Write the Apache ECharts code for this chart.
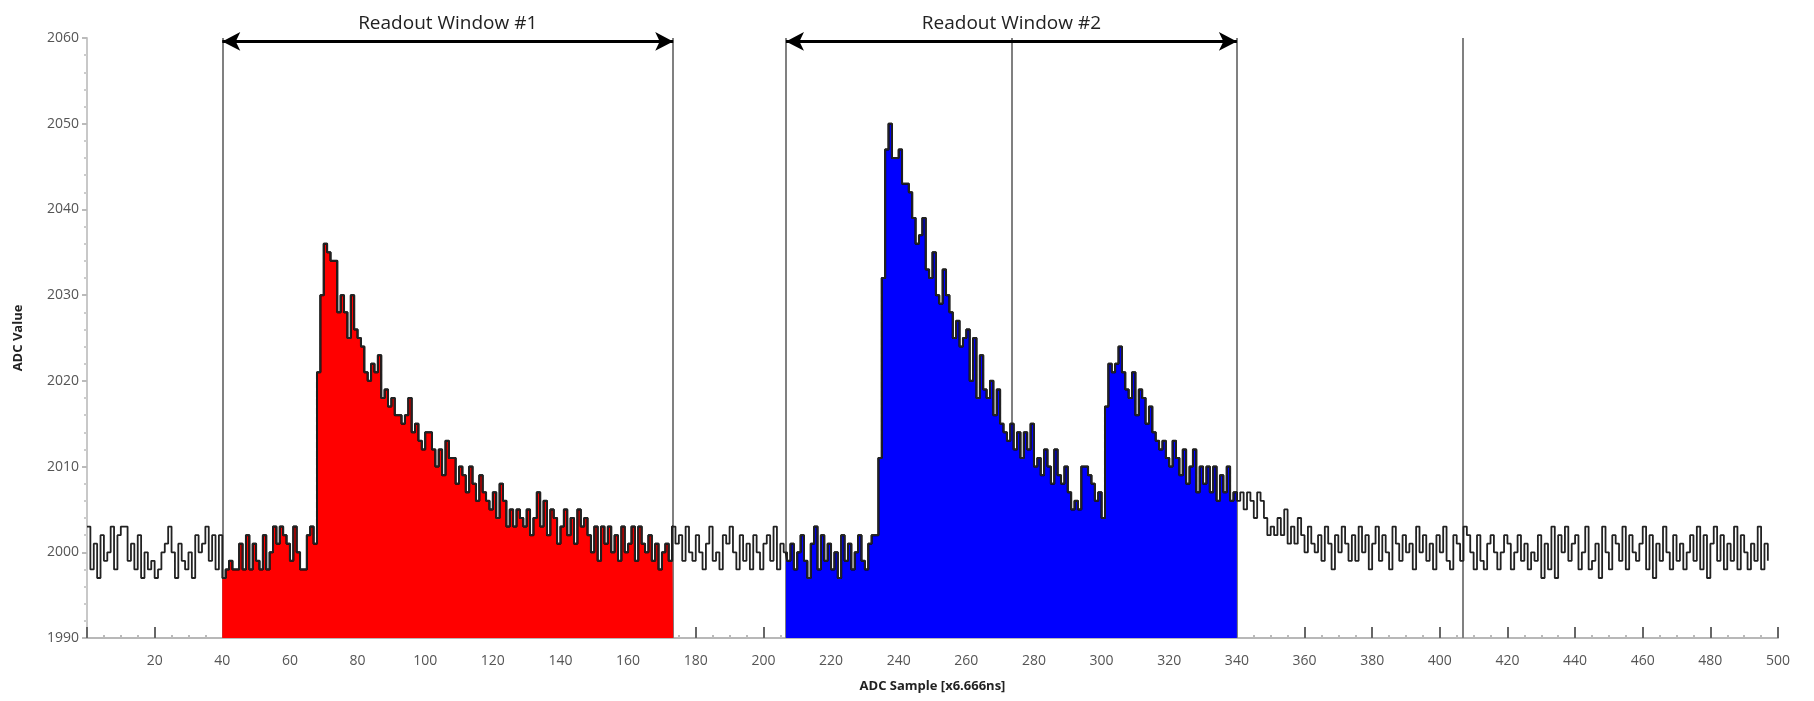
<!DOCTYPE html>
<html>
<head>
<meta charset="utf-8">
<title>ADC Readout Windows</title>
<script src="https://cdn.jsdelivr.net/npm/echarts@6/dist/echarts.min.js"></script>
<style>
  html, body { margin: 0; padding: 0; background: #fff; }
  #chart { width: 1814px; height: 701px; }
</style>
</head>
<body>
<div id="chart"></div>
<script>
// one ADC value per sample, starting at sample 0
const adcValues = [
  2003, 1998, 2001, 1997, 2002, 1999, 2000, 2003, 1998, 2002, // 0
  2003, 2003, 1999, 2001, 1998, 2002, 1997, 2000, 1998, 1999, // 10
  1997, 1998, 2000, 2001, 2003, 2000, 1997, 2001, 1999, 1998, // 20
  2000, 1997, 2002, 2000, 2001, 2003, 1999, 2002, 1998, 2002, // 30
  1997, 1998, 1999, 1998, 1998, 2001, 1998, 2002, 1998, 2001, // 40
  1999, 1998, 2002, 1998, 2000, 2003, 2001, 2003, 2002, 2001, // 50
  1999, 2003, 2000, 1998, 1998, 2002, 2003, 2001, 2021, 2030, // 60
  2036, 2035, 2034, 2034, 2028, 2030, 2028, 2025, 2030, 2026, // 70
  2025, 2024, 2021, 2020, 2022, 2021, 2023, 2018, 2019, 2017, // 80
  2018, 2016, 2016, 2015, 2016, 2018, 2014, 2015, 2013, 2012, // 90
  2014, 2014, 2012, 2010, 2012, 2009, 2013, 2011, 2011, 2008, // 100
  2010, 2009, 2007, 2010, 2008, 2006, 2009, 2007, 2006, 2005, // 110
  2007, 2004, 2008, 2006, 2003, 2005, 2003, 2005, 2004, 2003, // 120
  2005, 2002, 2004, 2007, 2003, 2006, 2002, 2005, 2004, 2001, // 130
  2003, 2005, 2002, 2004, 2001, 2005, 2003, 2004, 2002, 2000, // 140
  2003, 1999, 2003, 2001, 2003, 2000, 2002, 1999, 2003, 2000, // 150
  2001, 2003, 1999, 2003, 2001, 2000, 2002, 1999, 2001, 1998, // 160
  2000, 2001, 1999, 2003, 2001, 2002, 1999, 2003, 2000, 1999, // 170
  2002, 2000, 1998, 2001, 2003, 1999, 2000, 1998, 2002, 2001, // 180
  2003, 2000, 1998, 2002, 1999, 2001, 1998, 2002, 2000, 1998, // 190
  2001, 2002, 1999, 2003, 1998, 2001, 2000, 1999, 2001, 1998, // 200
  2000, 2002, 1999, 1997, 2001, 2003, 1998, 2002, 1999, 2001, // 210
  1998, 2000, 1997, 2002, 1999, 2001, 1998, 2000, 2002, 1999, // 220
  1998, 2001, 2002, 2002, 2011, 2032, 2047, 2050, 2046, 2046, // 230
  2047, 2043, 2043, 2042, 2039, 2036, 2037, 2039, 2033, 2032, // 240
  2035, 2030, 2029, 2033, 2030, 2028, 2025, 2027, 2024, 2025, // 250
  2026, 2020, 2025, 2018, 2023, 2019, 2018, 2020, 2016, 2019, // 260
  2015, 2014, 2013, 2015, 2012, 2014, 2011, 2014, 2012, 2015, // 270
  2010, 2011, 2009, 2012, 2010, 2008, 2012, 2009, 2008, 2010, // 280
  2007, 2005, 2006, 2005, 2010, 2010, 2009, 2008, 2006, 2007, // 290
  2004, 2017, 2022, 2021, 2022, 2024, 2021, 2019, 2018, 2021, // 300
  2016, 2019, 2018, 2015, 2017, 2014, 2013, 2012, 2013, 2011, // 310
  2010, 2013, 2011, 2009, 2012, 2008, 2010, 2012, 2007, 2010, // 320
  2008, 2010, 2007, 2010, 2006, 2009, 2007, 2010, 2006, 2007, // 330
  2006, 2007, 2005, 2007, 2006, 2004, 2007, 2006, 2004, 2002, // 340
  2003, 2002, 2004, 2002, 2005, 2001, 2003, 2001, 2004, 2002, // 350
  2000, 2003, 2001, 2000, 2002, 1999, 2003, 2001, 1998, 2002, // 360
  2000, 2003, 2001, 1999, 2002, 1999, 2003, 2000, 2002, 1998, // 370
  2001, 2003, 1999, 2002, 2000, 1998, 2003, 2001, 1999, 2002, // 380
  2000, 2001, 1998, 2003, 2000, 2002, 1999, 2001, 1998, 2002, // 390
  2000, 2003, 1999, 1998, 2002, 2001, 1999, 2003, 2002, 2000, // 400
  1998, 2002, 1999, 1998, 2001, 2002, 2000, 1998, 2000, 2002, // 410
  2001, 1998, 2000, 2002, 1999, 2001, 1998, 2000, 1999, 2002, // 420
  1997, 2001, 1998, 2003, 1997, 2002, 2000, 2003, 1999, 2001, // 430
  2002, 1998, 2000, 2003, 1998, 1999, 2001, 1997, 2003, 2000, // 440
  1998, 2002, 2001, 1999, 2003, 1998, 2002, 2000, 1999, 2001, // 450
  2003, 1998, 2002, 1997, 2001, 1999, 2003, 2000, 1998, 2002, // 460
  1999, 2001, 1998, 2000, 2002, 1999, 2003, 1998, 2002, 1997, // 470
  2001, 2003, 1999, 2002, 1998, 2001, 1999, 2003, 1998, 2002, // 480
  2000, 1998, 2001, 1999, 2003, 1998, 2001, 1999              // 490
];

// readout windows (sample units) and the gate markers
const windowNames = ["Readout Window #1", "Readout Window #2"];
const windowStarts = [40, 206.67];
const windowEnds = [173.33, 340];
const markerSamples = [40, 173.33, 206.67, 273.33, 340, 406.67];
const arrowLevel = 2059.6;

const yMin = 1990, yMax = 2060;

const samplePoints = adcValues.map((v, i) => [i, v]);

function windowPoints(from, to) {
  const pts = [[from, adcValues[Math.floor(from)]]];
  for (let i = Math.floor(from) + 1; i <= Math.floor(to); i++) {
    pts.push([i, adcValues[i]]);
  }
  if (to > Math.floor(to)) pts.push([to, adcValues[Math.floor(to)]]);
  return pts;
}

const fillColors = ["#ff0000", "#0000ff"];
const font = "'Open Sans', 'Segoe UI', sans-serif";

const chart = echarts.init(document.getElementById("chart"));

const windowSeries = windowNames.map((name, k) => ({
  name: name,
  type: "line",
  step: "end",
  showSymbol: false,
  silent: true,
  clip: false,
  data: windowPoints(windowStarts[k], windowEnds[k]),
  lineStyle: { color: "#000", width: 2 },
  areaStyle: { color: fillColors[k], opacity: 1, origin: "start" },
  z: 3,
  markLine: {
    silent: true,
    symbol: ["arrow", "arrow"],
    symbolSize: [14, 18],
    lineStyle: { color: "#000", width: 3, type: "solid" },
    label: {
      show: true,
      position: "middle",
      formatter: "{b}",
      distance: 8,
      fontFamily: font,
      fontSize: 19,
      color: "#222"
    },
    data: [[
      { name: name, coord: [windowStarts[k], arrowLevel] },
      { coord: [windowEnds[k], arrowLevel] }
    ]]
  }
}));

chart.setOption({
  animation: false,
  backgroundColor: "#fff",
  grid: { left: 87, right: 36, top: 38, bottom: 63 },
  xAxis: {
    type: "value",
    min: 0,
    max: 500,
    interval: 20,
    name: "ADC Sample [x6.666ns]",
    nameLocation: "middle",
    nameGap: 42,
    nameTextStyle: { fontFamily: font, fontWeight: "bold", fontSize: 13, color: "#222" },
    axisLine: { show: true, lineStyle: { color: "#b8b8b8", width: 2 } },
    axisTick: { show: true, inside: true, length: 11, lineStyle: { color: "#666", width: 2 } },
    minorTick: { show: true, splitNumber: 4, length: 3, lineStyle: { color: "#bbb", width: 2 } },
    splitLine: { show: false },
    axisLabel: {
      fontFamily: font,
      fontSize: 14,
      color: "#555",
      margin: 16,
      formatter: (v) => (v === 0 ? "" : String(v))
    }
  },
  yAxis: {
    type: "value",
    min: yMin,
    max: yMax,
    interval: 10,
    name: "ADC Value",
    nameLocation: "middle",
    nameGap: 62,
    nameTextStyle: { fontFamily: font, fontWeight: "bold", fontSize: 13, color: "#222" },
    axisLine: { show: true, lineStyle: { color: "#c8c8c8", width: 2 } },
    axisTick: { show: true, length: 5, lineStyle: { color: "#bbb", width: 2 } },
    minorTick: { show: true, splitNumber: 5, length: 3, lineStyle: { color: "#ccc", width: 2 } },
    splitLine: { show: false },
    axisLabel: {
      fontFamily: font,
      fontSize: 14,
      color: "#555",
      margin: 8,
      formatter: (v) => String(v)
    }
  },
  series: [
    {
      // gate markers sit behind the filled windows
      name: "Gates",
      type: "line",
      data: [],
      silent: true,
      z: 1,
      markLine: {
        z: 1,
        silent: true,
        symbol: "none",
        label: { show: false },
        lineStyle: { color: "#808080", width: 2, type: "solid" },
        data: markerSamples.map((x) => ({ xAxis: x }))
      }
    },
    ...windowSeries,
    {
      name: "ADC",
      type: "line",
      step: "end",
      showSymbol: false,
      silent: true,
      data: samplePoints,
      lineStyle: { color: "#222", width: 1.8 },
      z: 4
    }
  ]
});
</script>
</body>
</html>
